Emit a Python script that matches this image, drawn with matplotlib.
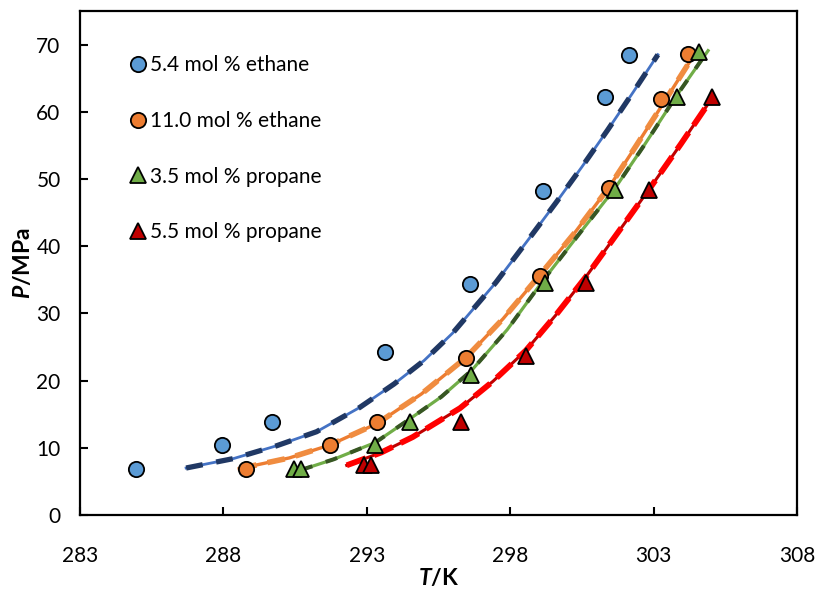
import matplotlib
matplotlib.use("Agg")
import matplotlib.pyplot as plt

plt.rcParams['font.family'] = ['Lato', 'DejaVu Sans']
plt.rcParams['mathtext.fontset'] = 'custom'
plt.rcParams['mathtext.bfit'] = 'Lato:bold:italic'
plt.rcParams['mathtext.bf'] = 'Lato:bold'

# experimental points
t_eth54 = [284.95, 287.95, 289.7, 293.65, 296.6, 299.15, 301.3, 302.15]
p_eth54 = [6.9, 10.4, 13.9, 24.2, 34.4, 48.2, 62.2, 68.4]
t_eth110 = [288.8, 291.7, 293.35, 296.45, 299.05, 301.45, 303.25, 304.2]
p_eth110 = [6.9, 10.4, 13.9, 23.4, 35.6, 48.6, 61.9, 68.6]
t_pro35 = [290.45, 290.7, 293.3, 294.5, 296.65, 299.2, 301.65, 303.8, 304.6]
p_pro35 = [6.9, 6.9, 10.4, 13.9, 20.8, 34.5, 48.4, 62.2, 68.9]
t_pro55 = [292.9, 293.15, 296.3, 298.55, 300.65, 302.85, 305.05]
p_pro55 = [7.4, 7.4, 13.9, 23.6, 34.6, 48.4, 62.2]

# model curves
tc_eth54 = [286.7, 288.35, 289.85, 291.25, 292.75, 293.95, 295.0, 296.0, 297.5,
            298.6, 299.6, 300.5, 301.4, 302.3, 303.15]
pc_eth54 = [7.0, 8.4, 10.3, 12.4, 16.0, 19.5, 23.0, 27.1, 34.6,
            40.8, 46.5, 51.8, 57.3, 63.0, 68.5]
tc_eth110 = [288.55, 290.3, 291.7, 293.35, 294.9, 296.45, 297.75, 299.05, 300.25,
             301.45, 302.4, 303.3, 304.4]
pc_eth110 = [6.9, 8.5, 10.4, 13.6, 18.0, 23.4, 29.2, 35.8, 42.0,
             48.8, 55.0, 61.0, 68.4]
tc_pro35 = [290.7, 291.85, 293.3, 294.5, 295.6, 296.65, 297.9, 299.2, 300.4,
            301.65, 302.7, 303.8, 304.9]
pc_pro35 = [6.7, 8.3, 10.8, 14.3, 17.6, 21.5, 27.6, 35.2, 41.8,
            48.6, 55.2, 62.4, 69.1]
tc_pro55 = [292.3, 293.5, 294.6, 296.25, 297.4, 298.55, 299.6, 300.65, 301.75,
            302.85, 303.95, 305.0]
pc_pro55 = [7.4, 9.3, 11.6, 15.9, 19.9, 24.5, 29.8, 35.5, 42.0,
            48.5, 55.2, 61.8]

labels = ['5.4 mol % ethane', '11.0 mol % ethane', '3.5 mol % propane', '5.5 mol % propane']

fig = plt.figure(figsize=(8.18, 5.92), dpi=100)
ax = fig.add_axes([0.0978, 0.130, 0.8765, 0.8514])

# curves: thin solid + thick dashes on top
ax.plot(tc_eth54, pc_eth54, color='#4472C4', lw=2.0, zorder=2)
ax.plot(tc_eth54, pc_eth54, color='#203864', lw=3.8, dashes=(3.2, 2.6), zorder=3)
ax.plot(tc_eth110, pc_eth110, color='#ED7D31', lw=2.4, zorder=2)
ax.plot(tc_eth110, pc_eth110, color='#F08C40', lw=4.0, dashes=(3.2, 2), zorder=3)
ax.plot(tc_pro35, pc_pro35, color='#70AD47', lw=2.3, zorder=2)
ax.plot(tc_pro35, pc_pro35, color='#375623', lw=2.9, dashes=(3, 3.5), zorder=3)
ax.plot(tc_pro55, pc_pro55, color='#C00000', lw=2.2, zorder=2)
ax.plot(tc_pro55, pc_pro55, color='#FF0000', lw=4.2, dashes=(3.5, 1.5), zorder=3)

# points
h1, = ax.plot(t_eth54, p_eth54, 'o', ms=11, mfc='#5B9BD5', mec='black', mew=1.3, zorder=5)
h2, = ax.plot(t_eth110, p_eth110, 'o', ms=11, mfc='#ED7D31', mec='black', mew=1.3, zorder=5)
h3, = ax.plot(t_pro35, p_pro35, '^', ms=12, mfc='#70AD47', mec='black', mew=1.3, zorder=5)
h4, = ax.plot(t_pro55, p_pro55, '^', ms=12, mfc='#C00000', mec='black', mew=1.3, zorder=5)

ax.set_xlim(283, 308)
ax.set_ylim(0, 75)
ax.set_xticks([283, 288, 293, 298, 303, 308])
ax.set_yticks(range(0, 71, 10))

for s in ax.spines.values():
    s.set_linewidth(1.6)
ax.tick_params(axis='x', direction='in', length=6, width=1.5, labelsize=15, pad=22)
ax.tick_params(axis='y', direction='in', length=6, width=1.5, labelsize=15, pad=14)

ax.set_xlabel(r'$\mathbfit{T}$/K', fontsize=16.5, fontweight='bold', labelpad=1)
ax.set_ylabel(r'$\mathbfit{P}$/MPa', fontsize=16.5, fontweight='bold', labelpad=2)

leg = ax.legend([h1, h2, h3, h4], labels, loc='upper left', bbox_to_anchor=(0.04, 0.95),
                frameon=False, fontsize=15, labelspacing=1.72, handletextpad=0.1,
                handlelength=1.0, markerscale=1.0)

fig.savefig('out.png', dpi=100)
